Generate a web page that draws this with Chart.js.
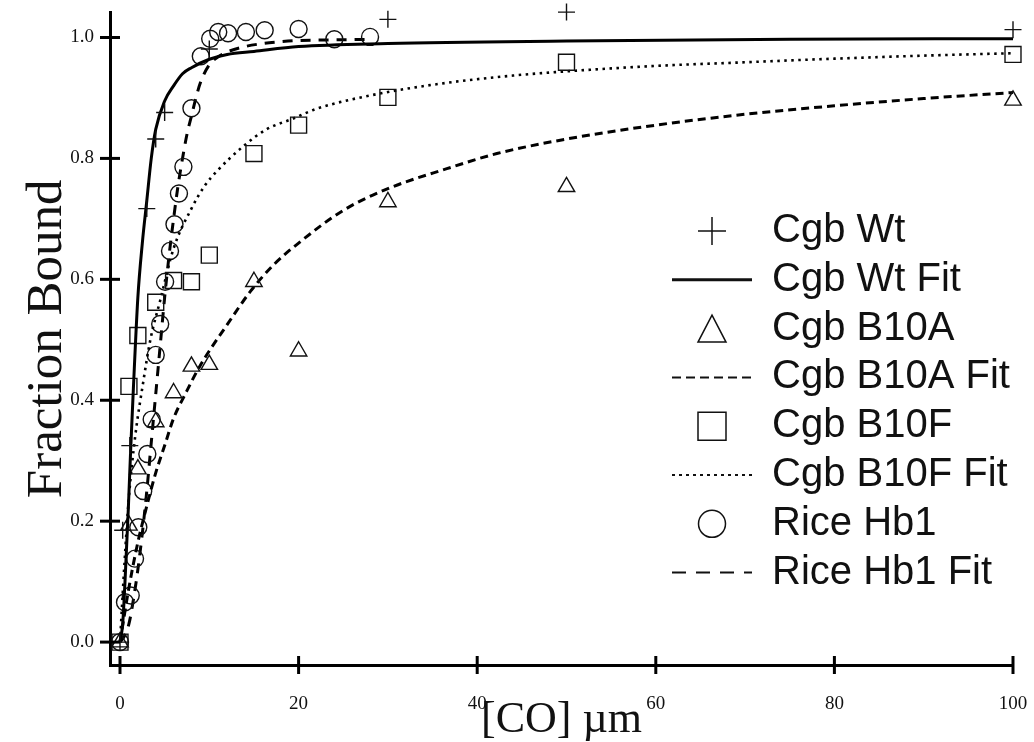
<!DOCTYPE html>
<html><head><meta charset="utf-8">
<script src="https://cdn.jsdelivr.net/npm/chart.js@4/dist/chart.umd.min.js"></script>
<style>html,body{margin:0;padding:0;background:#fff;}#wrap{width:1034px;height:742px;position:relative;}</style>
</head><body><div id="wrap"><canvas id="c" width="1034" height="742"></canvas></div>
<script>
// ---- data ----
const xTicks = [0, 20, 40, 60, 80, 100];
const yTicks = [0, 0.2, 0.4, 0.6, 0.8, 1.0];

const wtX = [0, 0.3, 1.1, 3, 4, 5, 10, 30, 50, 100];
const wtY = [0, 0.185, 0.325, 0.717, 0.832, 0.876, 0.981, 1.03, 1.042, 1.013];

const wtFitX = [0, 0.3, 0.56, 0.93, 1.2, 1.5, 2, 2.5, 3, 3.5, 4, 5, 6, 7, 8, 10, 12, 15, 20, 30, 50, 75, 100];
const wtFitY = [0, 0.03, 0.1, 0.22, 0.32, 0.42, 0.57, 0.66, 0.73, 0.8, 0.848, 0.895, 0.92, 0.94, 0.95, 0.964, 0.972, 0.977, 0.985, 0.99, 0.994, 0.997, 0.998];

const b10aX = [0, 1, 2, 4, 6, 8, 10, 15, 20, 30, 50, 100];
const b10aY = [0, 0.193, 0.286, 0.364, 0.412, 0.456, 0.459, 0.596, 0.481, 0.728, 0.753, 0.896];

const b10aFitX = [0, 1, 2, 3, 4, 5, 6, 7.3, 9, 12, 14.6, 17.2, 20, 25, 30, 36.6, 42.2, 50, 60, 70, 80, 90, 100];
const b10aFitY = [0, 0.09, 0.165, 0.225, 0.28, 0.325, 0.37, 0.41, 0.458, 0.525, 0.58, 0.624, 0.66, 0.714, 0.75, 0.783, 0.808, 0.832, 0.855, 0.873, 0.887, 0.899, 0.909];

const b10fX = [0, 1, 2, 4, 6, 8, 10, 15, 20, 30, 50, 100];
const b10fY = [0, 0.423, 0.507, 0.562, 0.598, 0.596, 0.64, 0.808, 0.855, 0.901, 0.959, 0.972];

const b10fFitX = [0, 0.5, 1, 1.7, 2.6, 3.4, 4.5, 6, 8, 9.5, 10.8, 13.8, 16.4, 19.4, 22, 29, 36.6, 44, 51, 60, 70, 80, 90, 100];
const b10fFitY = [0, 0.13, 0.24, 0.34, 0.43, 0.5, 0.565, 0.651, 0.717, 0.755, 0.778, 0.82, 0.848, 0.866, 0.882, 0.907, 0.925, 0.937, 0.945, 0.953, 0.959, 0.965, 0.97, 0.974];

const riceX = [0, 0.56, 1.2, 1.68, 2.05, 2.6, 3.06, 3.55, 4.0, 4.5, 5.05, 5.6, 6.1, 6.6, 7.1, 8.0, 9.05, 10.1, 11.0, 12.1, 14.1, 16.2, 20, 24, 28];
const riceY = [0, 0.066, 0.077, 0.138, 0.19, 0.25, 0.311, 0.368, 0.475, 0.526, 0.596, 0.647, 0.691, 0.742, 0.786, 0.883, 0.969, 0.998, 1.009, 1.007, 1.009, 1.012, 1.014, 0.997, 1.001];

const riceFitX = [0, 0.5, 1, 1.5, 2, 2.5, 3, 3.5, 4, 4.5, 5, 5.5, 6, 6.5, 7, 7.5, 8, 8.5, 9, 10, 11, 12, 14, 16, 18, 20, 24, 28];
const riceFitY = [0, 0.01, 0.03, 0.07, 0.12, 0.18, 0.25, 0.33, 0.41, 0.49, 0.57, 0.64, 0.7, 0.755, 0.8, 0.84, 0.87, 0.9, 0.925, 0.955, 0.968, 0.976, 0.985, 0.99, 0.993, 0.995, 0.996, 0.997];

const seriesLabels = ['Cgb Wt', 'Cgb Wt Fit', 'Cgb B10A', 'Cgb B10A Fit', 'Cgb B10F', 'Cgb B10F Fit', 'Rice Hb1', 'Rice Hb1 Fit'];
const xTitle = '[CO] \u00B5m';
const yTitle = 'Fraction Bound';

// ---- build ----
const pts = (xs, ys) => xs.map((x, i) => ({x: x, y: ys[i]}));
const serif = "'Liberation Serif', 'Times New Roman', serif";
const sans = "'Liberation Sans', Arial, sans-serif";

function markerDs(label, xs, ys, style, r) {
  return {label, data: pts(xs, ys), showLine: false, pointStyle: style, pointRadius: r, pointHoverRadius: r,
    pointBorderWidth: 1.4, borderColor: '#111', backgroundColor: 'rgba(0,0,0,0)', clip: false,
    legendKind: style};
}
function fitDs(label, xs, ys, dash, w) {
  return {label, data: pts(xs, ys), showLine: true, pointRadius: 0, borderColor: '#000', borderWidth: w,
    borderDash: dash, cubicInterpolationMode: 'monotone', fill: false, clip: false, legendKind: 'line'};
}

const datasets = [
  markerDs(seriesLabels[0], wtX, wtY, 'cross', 8.5),
  fitDs(seriesLabels[1], wtFitX, wtFitY, [], 3),
  markerDs(seriesLabels[2], b10aX, b10aY, 'triangle', 9.5),
  fitDs(seriesLabels[3], b10aFitX, b10aFitY, [8, 5], 3),
  markerDs(seriesLabels[4], b10fX, b10fY, 'rect', 11.3),
  fitDs(seriesLabels[5], b10fFitX, b10fFitY, [2.5, 4.5], 2.6),
  markerDs(seriesLabels[6], riceX, riceY, 'circle', 8.5),
  fitDs(seriesLabels[7], riceFitX, riceFitY, [10, 8], 3)
];
const legendDash = [[], [], [], [9, 5], [], [3, 4], [], [14, 10]];

const crossTicks = {
  id: 'crossTicks',
  afterDraw(chart) {
    const ctx = chart.ctx, xs = chart.scales.x, ys = chart.scales.y, a = chart.chartArea;
    ctx.save();
    ctx.strokeStyle = '#000'; ctx.lineWidth = 3;
    xs.ticks.forEach(t => { const p = xs.getPixelForValue(t.value); ctx.beginPath(); ctx.moveTo(p, a.bottom - 9); ctx.lineTo(p, a.bottom + 9); ctx.stroke(); });
    ys.ticks.forEach(t => { const p = ys.getPixelForValue(t.value); ctx.beginPath(); ctx.moveTo(a.left - 10, p); ctx.lineTo(a.left + 10, p); ctx.stroke(); });
    ctx.restore();
  }
};

const customLegend = {
  id: 'customLegend',
  afterDraw(chart) {
    const ctx = chart.ctx;
    const textX = 772, row0 = 231, step = 48.8, symX = 712, lx0 = 672, lx1 = 752;
    ctx.save();
    ctx.font = '40px ' + sans;
    ctx.textBaseline = 'middle';
    ctx.textAlign = 'left';
    chart.data.datasets.forEach((ds, i) => {
      const y = row0 + i * step;
      ctx.strokeStyle = '#111';
      ctx.setLineDash(legendDash[i]);
      ctx.beginPath();
      const k = ds.legendKind;
      if (k === 'line') {
        ctx.lineWidth = i === 1 ? 3 : 2;
        ctx.moveTo(lx0, y); ctx.lineTo(lx1, y);
      } else {
        ctx.lineWidth = 1.5;
        if (k === 'cross') { ctx.moveTo(symX - 14, y); ctx.lineTo(symX + 14, y); ctx.moveTo(symX, y - 14); ctx.lineTo(symX, y + 14); }
        else if (k === 'triangle') { ctx.moveTo(symX, y - 13.5); ctx.lineTo(symX + 14, y + 13.5); ctx.lineTo(symX - 14, y + 13.5); ctx.closePath(); }
        else if (k === 'rect') { ctx.rect(symX - 14, y - 14, 28, 28); }
        else if (k === 'circle') { ctx.arc(symX, y, 13.5, 0, Math.PI * 2); }
      }
      ctx.stroke();
      ctx.setLineDash([]);
      ctx.fillStyle = '#111';
      ctx.fillText(ds.label, textX, y);
    });
    ctx.restore();
  }
};

new Chart(document.getElementById('c'), {
  type: 'scatter',
  data: {datasets},
  options: {
    responsive: false, animation: false, devicePixelRatio: 1,
    layout: {padding: {left: 0, top: 10, right: 21, bottom: 0}},
    plugins: {legend: {display: false}, tooltip: {enabled: false}},
    scales: {
      x: {
        type: 'linear', min: -1.12, max: 100,
        afterBuildTicks: s => { s.ticks = xTicks.map(v => ({value: v})); },
        afterFit: s => { s.height = 77; s.paddingLeft = 0; s.paddingRight = 0; },
        grid: {display: false, drawTicks: false},
        border: {display: true, width: 3, color: '#000'},
        ticks: {color: '#111', font: {family: serif, size: 19}, padding: 28, maxRotation: 0, callback: v => String(v)},
        title: {display: true, text: xTitle, color: '#111', font: {family: serif, size: 44, lineHeight: 1}, padding: {top: 0, bottom: 0}}
      },
      y: {
        type: 'linear', min: -0.0379, max: 1.041,
        afterBuildTicks: s => { s.ticks = yTicks.map(v => ({value: v})); },
        afterFit: s => { s.width = 110; s.paddingTop = 0; s.paddingBottom = 0; },
        grid: {display: false, drawTicks: false},
        border: {display: true, width: 3, color: '#000'},
        ticks: {color: '#111', font: {family: serif, size: 19}, padding: 16, callback: v => v.toFixed(1)},
        title: {display: true, text: yTitle, color: '#111', font: {family: serif, size: 51, lineHeight: 1}, padding: {top: 22, bottom: 0}}
      }
    }
  },
  plugins: [crossTicks, customLegend]
});
</script></body></html>
